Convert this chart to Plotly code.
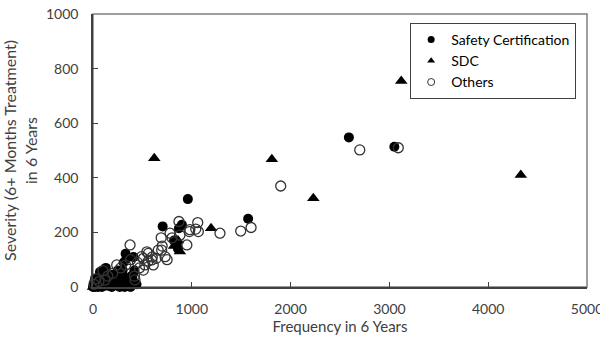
import plotly.graph_objects as go

# ---- data ----
safety_x = [2590, 3050, 960, 1570, 705, 900, 870, 850, 820, 860, 330, 410, 340, 300, 250,
            200, 150, 100, 60, 30, 20, 0, 50, 120, 180, 250, 280, 350, 390, 420, 10, 80,
            150, 220, 310, 400, 130, 270, 360, 40, 90, 190, 240, 320, 440, 70, 160, 230,
            20, 110, 210, 290, 380]
safety_y = [548, 514, 322, 250, 222, 228, 215, 160, 170, 140, 122, 110, 105, 62, 60,
            45, 30, 20, 10, 5, 0, 0, 0, 40, 15, 30, 50, 20, 40, 60, 15, 35,
            5, 10, 90, 30, 70, 0, 5, 25, 0, 0, 45, 0, 10, 55, 15, 25,
            30, 5, 30, 15, 0]

sdc_x = [620, 1810, 2230, 3120, 4330, 1195, 820, 880, 860, 400, 380, 300, 250, 200,
         150, 100, 50, 20, 0, 230, 330, 180, 120, 280, 350, 60, 210]
sdc_y = [472, 468, 325, 755, 410, 215, 150, 130, 170, 50, 30, 20, 10, 5,
         0, 10, 0, 5, 0, 20, 40, 30, 0, 0, 10, 20, 0]

others_x = [1900, 2700, 3090, 1600, 1495, 1285, 1060, 1066, 975, 880, 690, 780, 980,
            870, 950, 695, 660, 730, 545, 510, 595, 610, 525, 375, 490, 560, 750, 510,
            240, 425, 470, 600, 700, 800, 380, 420, 330, 280, 200, 150, 120, 60, 30, 10,
            100, 450, 560, 640, 1040]
others_y = [370, 502, 510, 218, 205, 197, 236, 203, 203, 190, 180, 197, 210,
            240, 154, 135, 135, 111, 129, 105, 99, 81, 81, 154, 111, 123, 100, 62,
            81, 26, 70, 110, 150, 180, 100, 40, 80, 70, 50, 40, 25, 20, 30, 10,
            60, 90, 95, 105, 212]

x_ticks = [0, 1000, 2000, 3000, 4000, 5000]
y_ticks = [0, 200, 400, 600, 800, 1000]

FONT = "Lato"
TXT = "#404040"

fig = go.Figure()
fig.add_trace(go.Scatter(x=safety_x, y=safety_y, mode="markers", name="Safety Certification",
                         showlegend=False, cliponaxis=False,
                         marker=dict(symbol="circle", size=10, color="black")))
fig.add_trace(go.Scatter(x=sdc_x, y=sdc_y, mode="markers", name="SDC",
                         showlegend=False, cliponaxis=False,
                         marker=dict(symbol="triangle-up", size=11, color="black")))
fig.add_trace(go.Scatter(x=others_x, y=others_y, mode="markers", name="Others",
                         showlegend=False, cliponaxis=False,
                         marker=dict(symbol="circle-open", size=10, color="#333333",
                                     line=dict(width=1.3, color="#333333"))))
# legend entries (smaller symbols, as in the reference)
fig.add_trace(go.Scatter(x=[None], y=[None], mode="markers", name="Safety Certification",
                         marker=dict(symbol="circle", size=7, color="black")))
fig.add_trace(go.Scatter(x=[None], y=[None], mode="markers", name="SDC",
                         marker=dict(symbol="triangle-up", size=7, color="black")))
fig.add_trace(go.Scatter(x=[None], y=[None], mode="markers", name="Others",
                         marker=dict(symbol="circle-open", size=7, color="#333333",
                                     line=dict(width=1, color="#333333"))))

axis_common = dict(showgrid=False, zeroline=False, showline=True, linecolor="#404040",
                   linewidth=1.5, ticks="inside", ticklen=5, tickcolor="#404040",
                   tickfont=dict(family=FONT, size=14, color=TXT), mirror=False,
                   ticklabeloverflow="allow", automargin=False)

fig.update_layout(
    width=600, height=344,
    margin=dict(l=93, r=13, t=14, b=57),
    paper_bgcolor="white", plot_bgcolor="white",
    font=dict(family=FONT, color=TXT),
    xaxis=dict(range=[0, 5000], tickvals=x_ticks, ticklabelstandoff=8,
               title=dict(text="Frequency in 6 Years", font=dict(family=FONT, size=15, color=TXT),
                          standoff=3),
               **axis_common),
    yaxis=dict(range=[0, 1000], tickvals=y_ticks, ticklabelstandoff=10,
               title=dict(text="Severity (6+ Months Treatment)<br>in 6 Years",
                          font=dict(family=FONT, size=16, color=TXT), standoff=6),
               **axis_common),
    legend=dict(x=0.642, y=0.967, xanchor="left", yanchor="top",
                bgcolor="white", bordercolor="#404040", borderwidth=1,
                font=dict(family=FONT, size=14, color="black"),
                itemwidth=30, tracegroupgap=0),
    shapes=[dict(type="rect", xref="paper", yref="paper", x0=0, y0=0, x1=1, y1=1,
                 line=dict(color="#7f7f7f", width=1.5), layer="below")],
)

fig.write_html("out.html")
